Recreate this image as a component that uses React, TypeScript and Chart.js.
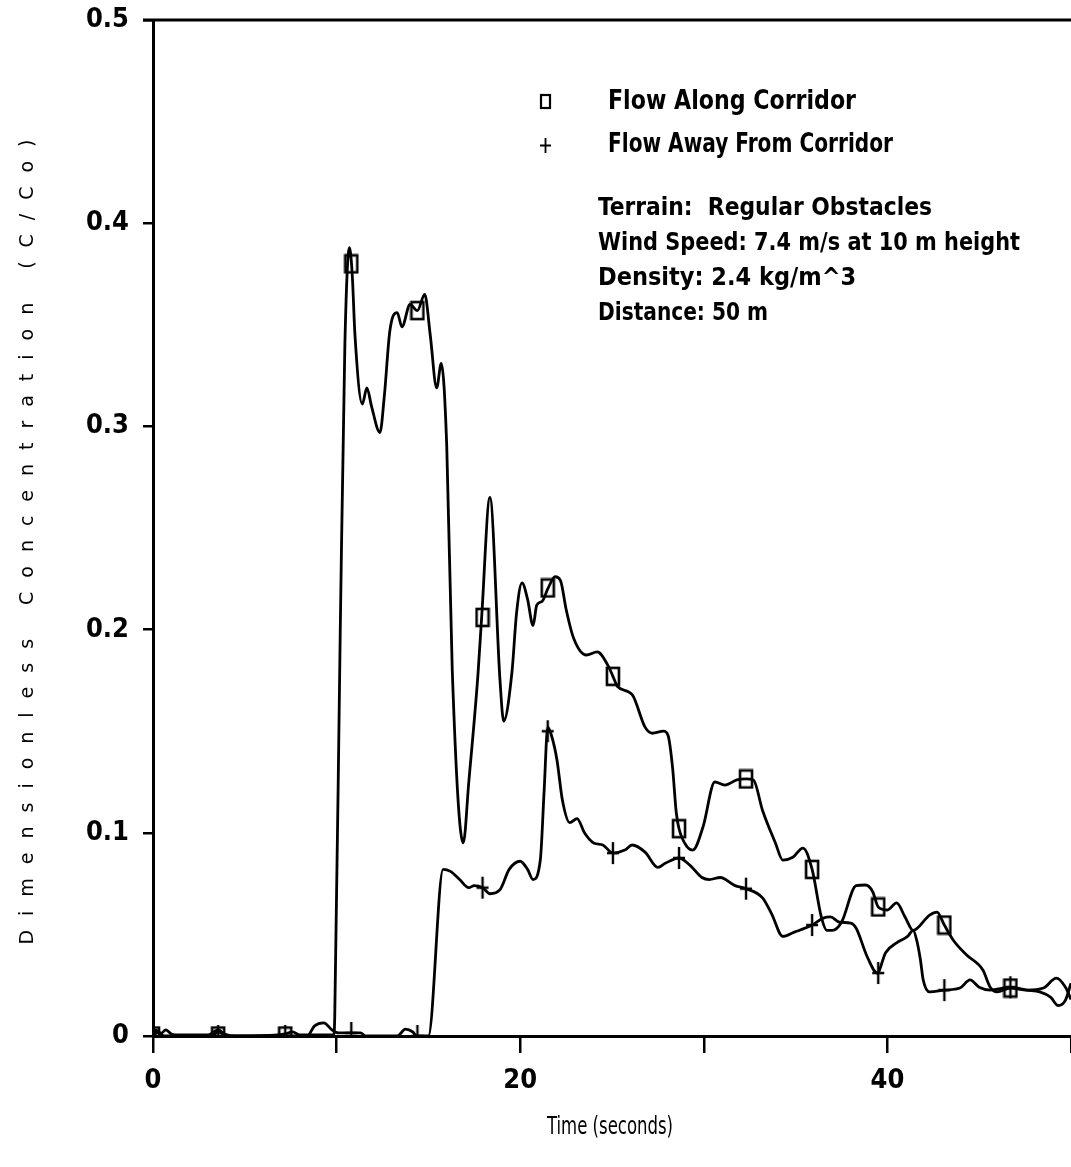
import React, { useEffect, useRef } from "react";
import { Chart, registerables } from "chart.js";

Chart.register(...registerables);

// ---- Data ----
const timeA = [0, 0.15, 0.4, 0.7, 1.0, 1.4, 3.0, 3.3, 3.55, 3.9, 4.5, 6.8, 7.2, 7.6, 8.0, 9.85, 9.9, 10.2, 10.45, 10.7, 10.85, 11.0, 11.4, 11.65, 11.9, 12.36, 12.6, 12.9, 13.3, 13.56, 14.0, 14.4, 14.8, 15.1, 15.45, 15.7, 16.0, 16.3, 16.9, 17.2, 17.7, 17.9, 18.35, 18.9, 19.1, 19.55, 19.8, 20.1, 20.4, 20.7, 20.9, 21.2, 21.5, 21.9, 22.2, 22.5, 22.9, 23.6, 24.2, 24.8, 25.05, 25.3, 26.1, 26.8, 27.2, 27.8, 28.05, 28.3, 28.5, 28.65, 29.1, 29.4, 29.96, 30.6, 31.15, 31.8, 32.3, 32.7, 33.2, 33.9, 34.3, 34.85, 35.4, 35.9, 36.4, 36.7, 37.0, 37.5, 38.3, 38.8, 39.2, 39.5, 40.0, 40.5, 40.96, 41.4, 42.3, 42.7, 43.1, 43.6, 44.3, 45.2, 45.6, 45.97, 46.7, 47.6, 48.5, 49.2, 49.7, 50];
const valueA = [0, 0.003, 0.001, 0.003, 0.001, 0.0005, 0.0005, 0.002, 0.003, 0.001, 0, 0.0005, 0.001, 0.002, 0.0005, 0.0005, 0.01, 0.2, 0.34, 0.388, 0.375, 0.345, 0.311, 0.319, 0.31, 0.297, 0.315, 0.347, 0.356, 0.349, 0.36, 0.357, 0.365, 0.345, 0.319, 0.331, 0.29, 0.18, 0.095, 0.125, 0.178, 0.206, 0.265, 0.175, 0.155, 0.179, 0.208, 0.223, 0.215, 0.202, 0.212, 0.214, 0.22, 0.226, 0.224, 0.21, 0.196, 0.1875, 0.189, 0.182, 0.177, 0.172, 0.168, 0.152, 0.149, 0.15, 0.148, 0.132, 0.11, 0.102, 0.093, 0.0915, 0.103, 0.125, 0.1235, 0.126, 0.1265, 0.126, 0.111, 0.095, 0.0866, 0.088, 0.0925, 0.082, 0.0586, 0.052, 0.052, 0.056, 0.074, 0.0743, 0.071, 0.0635, 0.062, 0.0655, 0.0586, 0.052, 0.0595, 0.061, 0.0546, 0.047, 0.04, 0.0325, 0.024, 0.0217, 0.0236, 0.0226, 0.0236, 0.0285, 0.024, 0.018];

const timeB = [0, 0.3, 0.6, 3.2, 3.55, 4.0, 8.4, 8.8, 9.3, 9.75, 10.1, 11.3, 11.6, 13.3, 13.75, 14.15, 14.35, 15.0, 15.8, 16.2, 16.7, 17.2, 17.5, 17.95, 18.35, 18.9, 19.4, 20.0, 20.4, 20.7, 21.1, 21.3, 21.5, 21.7, 22.0, 22.3, 22.7, 23.1, 23.5, 24.0, 24.5, 25.05, 25.7, 26.1, 26.8, 27.5, 27.9, 28.65, 29.25, 29.9, 30.3, 30.9, 31.7, 32.3, 33.2, 33.7, 34.3, 34.9, 35.9, 36.5, 36.9, 37.4, 38.0, 38.3, 38.9, 39.45, 39.9, 40.5, 41.1, 41.4, 41.6, 41.8, 41.95, 42.3, 43.1, 43.95, 44.5, 45.0, 45.6, 46.7, 47.6, 48.3, 48.9, 49.3, 49.7, 50];
const valueB = [0, 0.002, 0, 0, 0.002, 0, 0, 0.005, 0.0065, 0.003, 0.0015, 0.0015, 0, 0, 0.0034, 0.002, 0, 0, 0.082, 0.081, 0.077, 0.073, 0.074, 0.073, 0.07, 0.072, 0.082, 0.086, 0.082, 0.077, 0.087, 0.12, 0.152, 0.148, 0.136, 0.116, 0.105, 0.107, 0.1, 0.095, 0.094, 0.09, 0.0915, 0.094, 0.0905, 0.083, 0.085, 0.0876, 0.084, 0.078, 0.077, 0.078, 0.074, 0.0725, 0.068, 0.06, 0.049, 0.051, 0.0546, 0.058, 0.0586, 0.056, 0.0556, 0.053, 0.039, 0.031, 0.041, 0.0458, 0.049, 0.052, 0.047, 0.0374, 0.0276, 0.0217, 0.0226, 0.0236, 0.0276, 0.024, 0.0226, 0.024, 0.0226, 0.0217, 0.019, 0.015, 0.0177, 0.026];

const markerTimes = [0, 3.55, 7.2, 10.8, 14.4, 17.95, 21.5, 25.05, 28.65, 32.3, 35.9, 39.5, 43.1, 46.7];
const markerA = [0, 0, 0, 0.38, 0.357, 0.206, 0.2205, 0.177, 0.102, 0.1265, 0.082, 0.0635, 0.0546, 0.0236];
const markerB = [0, 0, 0, 0.0015, 0, 0.073, 0.15, 0.09, 0.0876, 0.0725, 0.0546, 0.031, 0.0226, 0.024];

const seriesNames = ["Flow Along Corridor", "Flow Away From Corridor"];
const noteLines = [
  "Terrain:  Regular Obstacles",
  "Wind Speed: 7.4 m/s at 10 m height",
  "Density: 2.4 kg/m^3",
  "Distance: 50 m",
];
const xTitle = "Time (seconds)";
const yTitle = "Dimensionless Concentration (C/Co)";

const NARROW = "'Liberation Sans Narrow', 'DejaVu Sans Condensed', sans-serif";

function makeSquare(w: number, h: number, lw: number) {
  const c = document.createElement("canvas");
  c.width = w + 4;
  c.height = h + 4;
  const ctx = c.getContext("2d")!;
  ctx.strokeStyle = "#000";
  ctx.lineWidth = lw;
  ctx.strokeRect(2, 2, w, h);
  return c;
}
function makePlus(w: number, h: number, lw: number) {
  const c = document.createElement("canvas");
  c.width = w + 2;
  c.height = h + 2;
  const ctx = c.getContext("2d")!;
  ctx.strokeStyle = "#000";
  ctx.lineWidth = lw;
  ctx.beginPath();
  ctx.moveTo(c.width / 2, 1);
  ctx.lineTo(c.width / 2, h + 1);
  ctx.moveTo(1, c.height / 2);
  ctx.lineTo(w + 1, c.height / 2);
  ctx.stroke();
  return c;
}

export default function App() {
  const ref = useRef<HTMLCanvasElement | null>(null);
  useEffect(() => {
    if (!ref.current) return;
    const sq = makeSquare(12, 17, 2.6);
    const pl = makePlus(12, 22, 2.4);

    const overlay = {
      id: "overlay",
      afterDraw(chart: any) {
        const ctx = chart.ctx as CanvasRenderingContext2D;
        const a = chart.chartArea;
        ctx.save();
        // top border
        ctx.strokeStyle = "#000";
        ctx.lineWidth = 3;
        ctx.beginPath();
        ctx.moveTo(a.left - 10, a.top);
        ctx.lineTo(a.right, a.top);
        ctx.stroke();
        // legend
        ctx.lineWidth = 2.2;
        ctx.strokeRect(541, 95, 9, 13);
        ctx.lineWidth = 1.8;
        ctx.beginPath();
        ctx.moveTo(545.5, 138);
        ctx.lineTo(545.5, 153);
        ctx.moveTo(540, 145.5);
        ctx.lineTo(551, 145.5);
        ctx.stroke();
        ctx.fillStyle = "#000";
        ctx.textBaseline = "middle";
        ctx.textAlign = "left";
        ctx.font = `bold 27px ${NARROW}`;
        ctx.fillText(seriesNames[0], 608, 102, 248);
        ctx.fillText(seriesNames[1], 608, 145, 285);
        ctx.font = `bold 25px ${NARROW}`;
        const noteW = [334, 422, 270, 170];
        noteLines.forEach((t, i) => ctx.fillText(t, 598, 208 + i * 35, noteW[i]));
        // x title
        ctx.textAlign = "center";
        ctx.font = `24px ${NARROW}`;
        ctx.fillText(xTitle, 610, 1128, 126);
        // y title with letter spacing
        ctx.font = "19px 'DejaVu Sans', sans-serif";
        const chars = Array.from(yTitle);
        const widths = chars.map((c) => ctx.measureText(c).width);
        const sum = widths.reduce((s, v) => s + v, 0);
        const total = 805;
        const gap = (total - sum) / (chars.length - 1);
        ctx.translate(28, 542);
        ctx.rotate(-Math.PI / 2);
        ctx.textAlign = "left";
        let x = -total / 2;
        chars.forEach((c, i) => {
          ctx.fillText(c, x, 0);
          x += widths[i] + gap;
        });
        ctx.restore();
      },
    };

    const lineA = timeA.map((t, i) => ({ x: t, y: valueA[i] }));
    const lineB = timeB.map((t, i) => ({ x: t, y: valueB[i] }));
    const mA = markerTimes.map((t, i) => ({ x: t, y: markerA[i] }));
    const mB = markerTimes.map((t, i) => ({ x: t, y: markerB[i] }));

    const chart = new Chart(ref.current, {
      type: "line",
      data: {
        datasets: [
          { label: seriesNames[0], data: lineA, borderColor: "#000", borderWidth: 2.8, pointRadius: 0, cubicInterpolationMode: "monotone", fill: false },
          { label: seriesNames[1], data: lineB, borderColor: "#000", borderWidth: 2.8, pointRadius: 0, cubicInterpolationMode: "monotone", fill: false },
          { label: "mA", data: mA, showLine: false, pointStyle: sq as any, pointRadius: 8, borderColor: "#000" },
          { label: "mB", data: mB, showLine: false, pointStyle: pl as any, pointRadius: 8, borderColor: "#000" },
        ],
      },
      options: {
        responsive: false,
        animation: false,
        layout: { autoPadding: false, padding: { top: 20, right: 0, left: 0, bottom: 0 } },
        plugins: { legend: { display: false }, tooltip: { enabled: false } },
        scales: {
          x: {
            type: "linear",
            min: 0,
            max: 50,
            afterFit: (s: any) => { s.height = 131; s.paddingLeft = 0; s.paddingRight = 0; },
            border: { display: true, color: "#000", width: 3 },
            grid: { display: true, drawOnChartArea: false, drawTicks: true, tickLength: 17, color: "#000", lineWidth: 2.5 },
            ticks: {
              stepSize: 10,
              autoSkip: false,
              maxRotation: 0,
              padding: 12,
              color: "#000",
              font: { family: NARROW, size: 27, weight: "bold" },
              callback: (v: any) => (v % 20 === 0 && v < 50 ? String(v) : ""),
            },
          },
          y: {
            min: 0,
            max: 0.5,
            afterFit: (s: any) => { s.width = 153; s.paddingTop = 0; s.paddingBottom = 0; },
            border: { display: true, color: "#000", width: 3 },
            grid: { display: true, drawOnChartArea: false, drawTicks: true, tickLength: 10, color: "#000", lineWidth: 2.5 },
            ticks: {
              stepSize: 0.1,
              padding: 14,
              color: "#000",
              font: { family: NARROW, size: 27, weight: "bold" },
              callback: (v: any) => (v === 0 ? "0" : Number(v).toFixed(1)),
            },
          },
        },
      },
      plugins: [overlay],
    } as any);
    return () => chart.destroy();
  }, []);

  return (
    <div style={{ position: "absolute", left: 0, top: 0, width: 1071, height: 1167, background: "#fff" }}>
      <canvas ref={ref} width={1071} height={1167} style={{ display: "block" }} />
    </div>
  );
}
